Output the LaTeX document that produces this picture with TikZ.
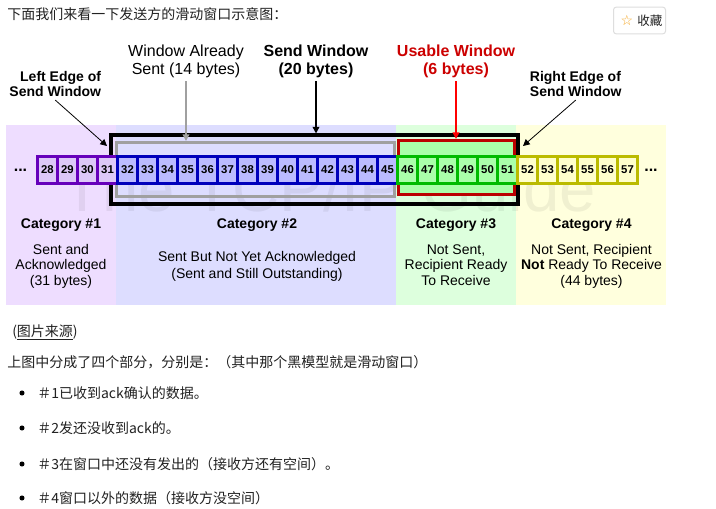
\documentclass[tikz,border=0pt]{standalone}
\usepackage{fontspec}
\setmainfont{Liberation Sans}
\newfontfamily\cjk{Noto Sans CJK SC}
\newfontfamily\djv{DejaVu Sans}
\usetikzlibrary{arrows.meta}
\definecolor{bgA}{HTML}{EEDDFF}
\definecolor{bgB}{HTML}{DDDDFF}
\definecolor{bgC}{HTML}{DDFFDD}
\definecolor{bgD}{HTML}{FFFFDD}
\definecolor{cellAf}{HTML}{DDC8F8}
\definecolor{cellAd}{HTML}{6600BB}
\definecolor{cellBf}{HTML}{BBBBFF}
\definecolor{cellBd}{HTML}{0000BB}
\definecolor{cellCf}{HTML}{AAFFAA}
\definecolor{cellCd}{HTML}{00BB00}
\definecolor{cellDf}{HTML}{FFFFCC}
\definecolor{cellDd}{HTML}{BBBB00}
\definecolor{winred}{HTML}{BB0000}
\definecolor{txtred}{HTML}{CC0000}
\definecolor{wingray}{HTML}{A0A0A0}
\definecolor{starorange}{HTML}{F5A623}
\definecolor{cjktext}{HTML}{222222}
\tikzset{
  cellbox/.style={draw, line width=2.25pt, minimum width=15pt, minimum height=19.9pt, inner sep=0pt, outer sep=0pt,
    font=\bfseries\fontsize{8.5}{9}\selectfont},
  cellA/.style={cellbox, draw=cellAd, fill=cellAf},
  cellB/.style={cellbox, draw=cellBd, fill=cellBf},
  cellC/.style={cellbox, draw=cellCd, fill=cellCf},
  cellD/.style={cellbox, draw=cellDd, fill=cellDf},
  biglbl/.style={inner sep=2pt, font=\fontsize{12}{14}\selectfont, anchor=base},
  bigbold/.style={biglbl, font=\bfseries\fontsize{12}{14}\selectfont},
  smlbl/.style={inner sep=2pt, font=\fontsize{10.5}{12}\selectfont, anchor=base},
  smbold/.style={smlbl, font=\bfseries\fontsize{10.5}{12}\selectfont},
  cjklbl/.style={inner sep=0pt, anchor=base west, text=cjktext, font=\cjk\fontsize{10.5}{12}\selectfont},
  ptr/.style={-{Triangle[length=5pt,width=5pt]}},
}
\begin{document}
\begin{tikzpicture}[x=0.75pt,y=-0.75pt]
\useasboundingbox (0,0) rectangle (716,509);
\fill[white] (0,0) rectangle (716,509);

% header text and button
\node[cjklbl] (title) at (7,20) {下面我们来看一下发送方的滑动窗口示意图：};
\node[draw=black!13, line width=0.75pt, rounded corners=2pt, minimum width=39pt, minimum height=20pt, inner sep=0pt] (btn) at (639.5,20.5) {};
\node[inner sep=0pt, text=starorange, font=\djv\fontsize{10.5}{12}\selectfont] (star) at (627,20.5) {☆};
\node[inner sep=0pt, anchor=west, font=\cjk\fontsize{9.4}{11}\selectfont, text=cjktext] (fav) at (637,20.5) {收藏};

% category backgrounds
\fill[bgA] (6,125) rectangle (116,305);
\fill[bgB] (116,125) rectangle (396,305);
\fill[bgC] (396,125) rectangle (516,305);
\fill[bgD] (516,125) rectangle (666,305);

% watermark
\node[inner sep=0pt, anchor=base, text=black, text opacity=0.06, font=\fontsize{49}{50}\selectfont] (wm) at (329,212) {The TCP/IP Guide};

% window rectangles
\node[draw=black, line width=3pt, minimum width=305.25pt, minimum height=51.4pt, inner sep=0pt] (black) at (314.5,169.75) {};
\node[draw=wingray, line width=2.25pt, minimum width=208.5pt, minimum height=40.5pt, inner sep=0pt] (gray) at (255.5,169.5) {};
\node[draw=winred, fill=cellCf, line width=2.25pt, minimum width=87pt, minimum height=40.5pt, inner sep=0pt] (red) at (456,167.5) {};

% cells
\foreach \n in {28,...,31} \node[cellA] (c\n) at ({47.5+(\n-28)*20},169.75) {\n};
\foreach \n in {32,...,45} \node[cellB] (c\n) at ({47.5+(\n-28)*20},169.75) {\n};
\foreach \n in {46,...,51} \node[cellC] (c\n) at ({47.5+(\n-28)*20},169.75) {\n};
\foreach \n in {52,...,57} \node[cellD] (c\n) at ({47.5+(\n-28)*20},169.75) {\n};
\node[inner sep=0pt, anchor=base, font=\bfseries\fontsize{12}{14}\selectfont] (dotsL) at (20.5,172) {...};
\node[inner sep=0pt, anchor=base, font=\bfseries\fontsize{12}{14}\selectfont] (dotsR) at (651,172) {...};

% top labels
\node[biglbl] (wa1) at (186,57) {Window Already};
\node[biglbl] (wa2) at (186,75) {Sent (14 bytes)};
\node[bigbold] (sw1) at (316,57) {Send Window};
\node[bigbold] (sw2) at (316,75) {(20 bytes)};
\node[bigbold, text=txtred] (uw1) at (456,57) {Usable Window};
\node[bigbold, text=txtred] (uw2) at (456,75) {(6 bytes)};
\node[smbold, anchor=base east] (le1) at (104,82) {Left Edge of};
\node[smbold, anchor=base east] (le2) at (104,97) {Send Window};
\node[smbold, anchor=base west] (re1) at (527,82) {Right Edge of};
\node[smbold, anchor=base west] (re2) at (527,97) {Send Window};

% pointers
\coordinate (leTip) at (107,146);
\coordinate (reTip) at (523,146);
\draw[ptr, wingray, line width=1.1pt] (wa2.south) -- (wa2.south |- gray.north);
\draw[ptr, black, line width=1.1pt] (sw2.south) -- (sw2.south |- black.north);
\draw[ptr, red, line width=1.1pt] (uw2.south) -- (uw2.south |- red.north);
\draw[ptr, black, line width=0.6pt] (le2.south) -- (leTip);
\draw[ptr, black, line width=0.6pt] (re2.south) -- (reTip);

% category texts
\node[smbold] (k1) at (61,229) {Category \#1};
\node[smlbl] (k1a) at (61,254) {Sent and};
\node[smlbl] (k1b) at (61,270) {Acknowledged};
\node[smlbl] (k1c) at (61,286) {(31 bytes)};
\node[smbold] (k2) at (257,229) {Category \#2};
\node[smlbl] (k2a) at (257,262) {Sent But Not Yet Acknowledged};
\node[smlbl] (k2b) at (257,278) {(Sent and Still Outstanding)};
\node[smbold] (k3) at (456,229) {Category \#3};
\node[smlbl] (k3a) at (456,254) {Not Sent,};
\node[smlbl] (k3b) at (456,270) {Recipient Ready};
\node[smlbl] (k3c) at (456,286) {To Receive};
\node[smbold] (k4) at (591.5,229) {Category \#4};
\node[smlbl] (k4a) at (591.5,254) {Not Sent, Recipient};
\node[smlbl] (k4b) at (591.5,270) {\textbf{Not} Ready To Receive};
\node[smlbl] (k4c) at (591.5,286) {(44 bytes)};

% text below
\node[cjklbl] (src) at (12,336) {(\underline{图片来源})};
\node[cjklbl] (intro) at (7,367) {上图中分成了四个部分，分别是：（其中那个黑模型就是滑动窗口）};
\foreach \i/\yy/\t in {1/393/＃1已收到ack确认的数据。, 2/428/＃2发还没收到ack的。, 3/464/＃3在窗口中还没有发出的（接收方还有空间）。, 4/498/＃4窗口以外的数据（接收方没空间）}{
  \node[circle, fill=black, inner sep=0pt, minimum size=3.8pt] (dot\i) at (22,\yy) {};
  \node[cjklbl] (item\i) at (37,\yy+5) {\t};
}
\end{tikzpicture}
\end{document}
